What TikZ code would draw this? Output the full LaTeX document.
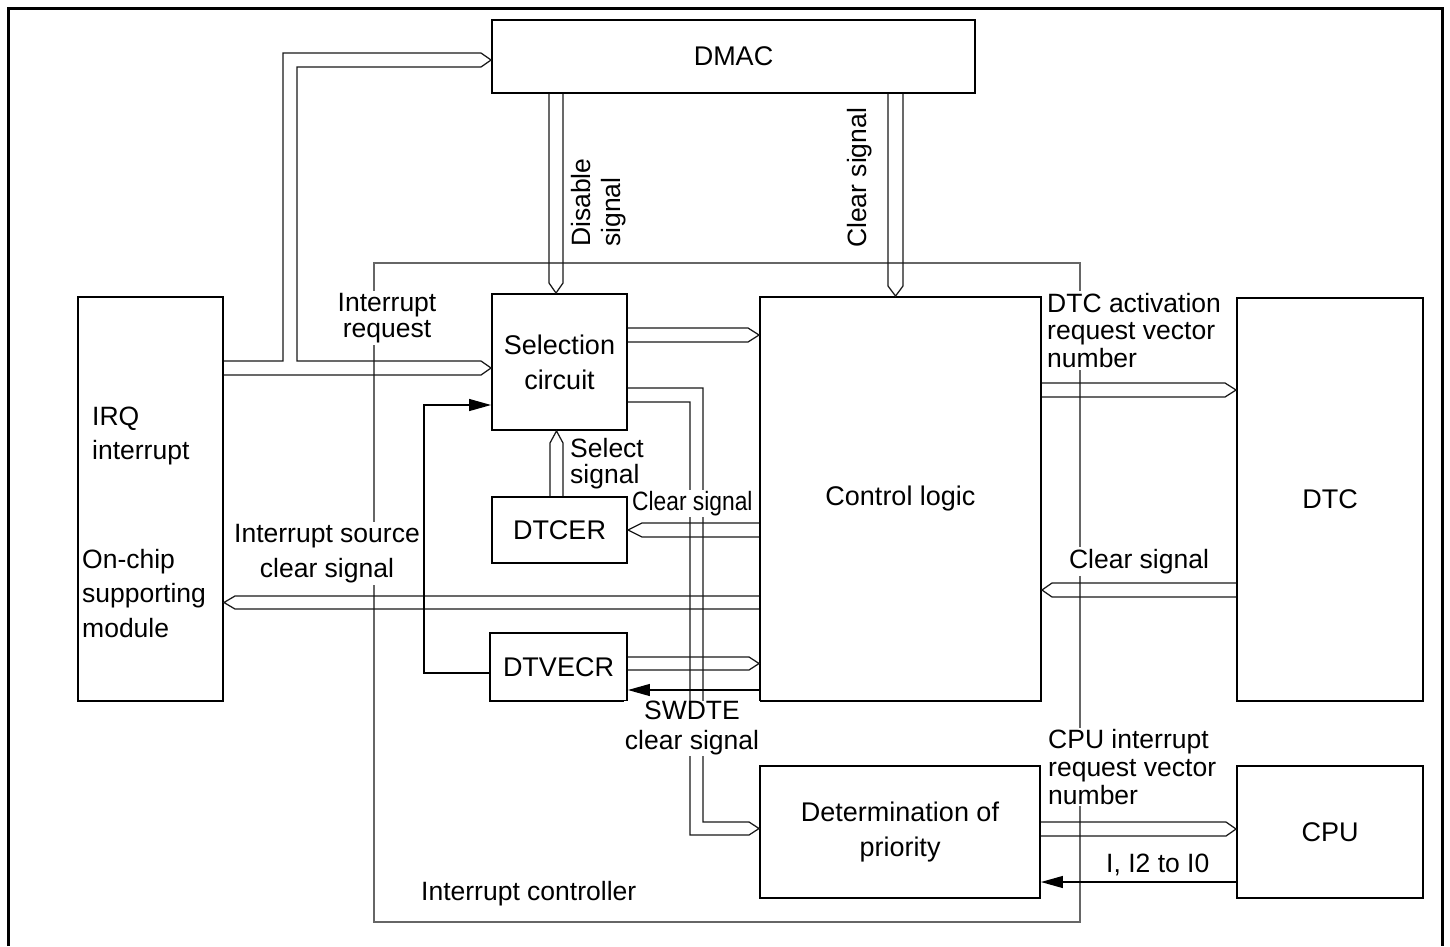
\documentclass[tikz,border=0pt]{standalone}
\usepackage{fontspec}
\usepackage{graphicx}
\setmainfont{Liberation Sans}
\usetikzlibrary{arrows.meta,calc}
\begin{document}
\begin{tikzpicture}[x=1pt,y=-1pt,
  box/.style={draw, line width=1.9pt, inner sep=0pt, align=center, font=\fontsize{27}{35}\selectfont},
  pipe/.style={draw=black!90, line width=1.25pt, line join=miter},
  sig/.style={draw=black, line width=1.25pt, -{Triangle[length=22pt,width=12pt]}},
  lbl/.style={fill=white, inner sep=2pt, font=\fontsize{26.5}{27.5}\selectfont},
  txt/.style={inner sep=0pt, font=\fontsize{26.5}{34}\selectfont},
  bound/.style={draw=black!60, line width=1.1pt}]
\useasboundingbox (0,0) rectangle (1450,946);
% frame
\draw[line width=3pt] (8,946) -- (8,8) -- (1442,8) -- (1442,946);
% interrupt controller boundary
\draw[bound] (374,263) rectangle (1080,922);
% boxes
\node[box, minimum width=483pt, minimum height=73pt] (dmac) at (733.5,56.5) {DMAC};
\node[box, minimum width=145pt, minimum height=404pt] (irq) at (150.5,499) {};
\node[box, minimum width=135pt, minimum height=136pt] (sel) at (559.5,362) {Selection\\circuit};
\node[box, minimum width=281pt, minimum height=404pt] (ctl) at (900.5,499) {Control logic};
\node[box, minimum width=186pt, minimum height=403pt] (dtc) at (1330,499.5) {DTC};
\node[box, minimum width=135pt, minimum height=66pt] (dtcer) at (559.5,530) {DTCER};
\node[box, minimum width=137pt, minimum height=68pt] (dtvecr) at (558.5,667) {DTVECR};
\node[box, minimum width=280pt, minimum height=132pt] (det) at (900,832) {Determination of\\priority};
\node[box, minimum width=186pt, minimum height=132pt] (cpu) at (1330,832) {CPU};
% pipes
\draw[pipe] (irq.east |- 0,375) -- (481,375) -- (sel.west |- 0,368) -- (481,361) -- (297,361) -- (297,67) -- (481,67) -- (dmac.west |- 0,60) -- (481,53) -- (283,53) -- (283,361) -- (irq.east |- 0,361);
\draw[pipe] (549,0 |- dmac.south) -- (549,283) -- (556,0 |- sel.north) -- (563,283) -- (563,0 |- dmac.south);
\draw[pipe] (888,0 |- dmac.south) -- (888,286) -- (895.5,0 |- ctl.north) -- (903,286) -- (903,0 |- dmac.south);
\draw[pipe] (sel.east |- 0,328) -- (748,328) -- (ctl.west |- 0,335) -- (748,342) -- (sel.east |- 0,342);
\draw[pipe] (sel.east |- 0,388) -- (703,388) -- (703,822) -- (749,822) -- (det.west |- 0,828.5) -- (749,835) -- (690,835) -- (690,402) -- (sel.east |- 0,402);
\draw[pipe] (550,0 |- dtcer.north) -- (550,443) -- (556.5,0 |- sel.south) -- (563,443) -- (563,0 |- dtcer.north);
\draw[pipe] (ctl.west |- 0,523) -- (642,523) -- (dtcer.east |- 0,530) -- (642,537) -- (ctl.west |- 0,537);
\draw[pipe] (ctl.west |- 0,596) -- (235,596) -- (irq.east |- 0,602.5) -- (235,609) -- (ctl.west |- 0,609);
\draw[pipe] (dtvecr.east |- 0,657) -- (749,657) -- (ctl.west |- 0,663.5) -- (749,670) -- (dtvecr.east |- 0,670);
\draw[pipe] (ctl.east |- 0,383) -- (1225,383) -- (dtc.west |- 0,390) -- (1225,397) -- (ctl.east |- 0,397);
\draw[pipe] (dtc.west |- 0,583) -- (1052,583) -- (ctl.east |- 0,590) -- (1052,597) -- (dtc.west |- 0,597);
\draw[pipe] (det.east |- 0,822) -- (1226,822) -- (cpu.west |- 0,829) -- (1226,836) -- (det.east |- 0,836);
% single arrows
\draw[sig] (ctl.west |- 0,690) -- (dtvecr.east |- 0,690);
\draw[sig] (dtvecr.west |- 0,673) -- (424,673) -- (424,405) -- (sel.west |- 0,405);
\draw[sig] (cpu.west |- 0,882) -- (det.east |- 0,882);
% labels
\node[lbl, anchor=north west, rotate=90, align=left, font=\fontsize{26.5}{30}\selectfont] (lds) at (569.5,249) {Disable\\signal};
\node[lbl, anchor=north west, rotate=90] (lcs) at (845.5,250) {Clear signal};
\node[lbl, align=center, font=\fontsize{26.5}{26}\selectfont, anchor=north] (lir) at (387,291) {Interrupt\\request};
\node[lbl, align=left, anchor=north west] (ldtc) at (1045,291) {DTC activation\\request vector\\number};
\node[lbl, anchor=base] (ldc) at (1139,568) {Clear signal};
\node[lbl, align=left, font=\fontsize{26.5}{26}\selectfont, anchor=north west, inner sep=1pt] (lsel) at (569,437) {Select\\signal};
\node[lbl, anchor=base west, inner sep=1pt] (lcs2) at (631,510) {\scalebox{0.86}[1]{Clear signal}};
\node[lbl, align=center, font=\fontsize{26.5}{35}\selectfont, anchor=north] (lisc) at (327,522) {Interrupt source\\clear signal};
\node[txt, align=left, anchor=north west] (lirq) at (92,407) {IRQ\\interrupt};
\node[txt, align=left, font=\fontsize{26.5}{34.5}\selectfont, anchor=north west] (lonc) at (82,549) {On-chip\\supporting\\module};
\node[lbl, align=center, font=\fontsize{26.5}{30}\selectfont, anchor=north, inner sep=0.5pt] (lsw) at (692,700.5) {SWDTE\\clear signal};
\node[lbl, align=left, font=\fontsize{26.5}{28}\selectfont, anchor=north west, inner sep=1pt] (lcpu) at (1047,728) {CPU interrupt\\request vector\\number};
\node[txt, anchor=base west] (li) at (1106,872) {I, I2 to I0};
\node[txt, anchor=base west] (lic) at (421,900) {Interrupt controller};
\end{tikzpicture}
\end{document}
